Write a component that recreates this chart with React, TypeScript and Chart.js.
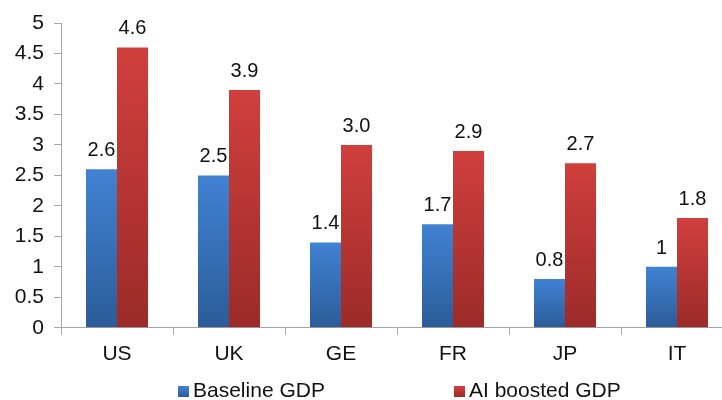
import React, { useEffect, useRef } from "react";
import { Chart, registerables } from "chart.js";

Chart.register(...registerables);

const categories = ["US", "UK", "GE", "FR", "JP", "IT"];
const baselineValues = [2.6, 2.5, 1.4, 1.7, 0.8, 1.0];
const aiValues = [4.6, 3.9, 3.0, 2.9, 2.7, 1.8];
const baselineLabels = ["2.6", "2.5", "1.4", "1.7", "0.8", "1"];
const aiLabels = ["4.6", "3.9", "3.0", "2.9", "2.7", "1.8"];
const seriesNames = ["Baseline GDP", "AI boosted GDP"];
const yTicks = [0, 0.5, 1, 1.5, 2, 2.5, 3, 3.5, 4, 4.5, 5];

const FONT = "'Liberation Sans', Arial, sans-serif";
const BLUE_TOP = "#4182d3";
const BLUE_BOTTOM = "#2c5c98";
const RED_TOP = "#d03f3c";
const RED_BOTTOM = "#9b2b29";

function barGradient(ctx: any, top: string, bottom: string) {
  const chart = ctx.chart;
  if (!chart.chartArea || ctx.type !== "data") return top;
  const y = chart.scales.y;
  const v = ctx.raw as number;
  const yTop = y.getPixelForValue(v);
  const yBase = y.getPixelForValue(0);
  if (!isFinite(yTop) || !isFinite(yBase) || yTop === yBase) return top;
  const g = chart.ctx.createLinearGradient(0, yTop, 0, yBase);
  g.addColorStop(0, top);
  g.addColorStop(1, bottom);
  return g;
}

const labelPlugin = {
  id: "valueLabels",
  afterDatasetsDraw(chart: any) {
    const ctx = chart.ctx;
    const texts = [baselineLabels, aiLabels];
    ctx.save();
    ctx.font = `20px ${FONT}`;
    ctx.fillStyle = "#111";
    ctx.textAlign = "center";
    ctx.textBaseline = "alphabetic";
    chart.data.datasets.forEach((_ds: any, di: number) => {
      const meta = chart.getDatasetMeta(di);
      meta.data.forEach((bar: any, i: number) => {
        ctx.fillText(texts[di][i], bar.x, bar.y - 13);
      });
    });
    ctx.restore();
  },
};

const legendPlugin = {
  id: "customLegend",
  afterDraw(chart: any) {
    const ctx = chart.ctx;
    const xs = [178, 454];
    const colors = [BLUE_TOP, RED_TOP];
    const baseY = 397;
    ctx.save();
    ctx.font = `21px ${FONT}`;
    ctx.textBaseline = "alphabetic";
    ctx.textAlign = "left";
    chart.data.datasets.forEach((ds: any, i: number) => {
      const g = ctx.createLinearGradient(0, baseY - 11, 0, baseY);
      g.addColorStop(0, colors[i]);
      g.addColorStop(1, i === 0 ? BLUE_BOTTOM : RED_BOTTOM);
      ctx.fillStyle = g;
      ctx.fillRect(xs[i], baseY - 11, 11, 11);
      ctx.fillStyle = "#111";
      ctx.fillText(ds.label, xs[i] + 15, baseY);
    });
    ctx.restore();
  },
};

export default function App() {
  const ref = useRef<HTMLCanvasElement | null>(null);

  useEffect(() => {
    document.body.style.margin = "0";
    const canvas = ref.current;
    if (!canvas) return;
    const chart = new Chart(canvas, {
      type: "bar",
      data: {
        labels: categories,
        datasets: [
          {
            label: seriesNames[0],
            data: baselineValues,
            backgroundColor: (c: any) => barGradient(c, BLUE_TOP, BLUE_BOTTOM),
            categoryPercentage: 0.554,
            barPercentage: 1,
          },
          {
            label: seriesNames[1],
            data: aiValues,
            backgroundColor: (c: any) => barGradient(c, RED_TOP, RED_BOTTOM),
            categoryPercentage: 0.554,
            barPercentage: 1,
          },
        ],
      },
      options: {
        responsive: false,
        animation: false,
        devicePixelRatio: 1,
        layout: { padding: { top: 23, right: 27, bottom: 26, left: 0 } },
        plugins: {
          legend: { display: false },
          tooltip: { enabled: false },
        },
        scales: {
          x: {
            grid: {
              drawOnChartArea: false,
              drawTicks: true,
              tickLength: 7,
              color: "#a6a6a6",
              offset: true,
            },
            border: { color: "#a6a6a6", width: 1 },
            ticks: {
              color: "#111",
              font: { family: FONT, size: 21 },
              padding: 7,
            },
          },
          y: {
            min: 0,
            max: 5,
            afterFit: (scale: any) => {
              scale.width = 61;
            },
            afterBuildTicks: (scale: any) => {
              scale.ticks = yTicks.map((v) => ({ value: v }));
            },
            grid: {
              drawOnChartArea: false,
              drawTicks: true,
              tickLength: 7,
              color: "#a6a6a6",
            },
            border: { color: "#a6a6a6", width: 1 },
            ticks: {
              color: "#111",
              font: { family: FONT, size: 21 },
              padding: 10,
              callback: (v: any) => String(v),
            },
          },
        },
      },
      plugins: [labelPlugin, legendPlugin],
    });
    return () => chart.destroy();
  }, []);

  return (
    <div style={{ width: 722, height: 400, overflow: "hidden", position: "relative" }}>
      <canvas ref={ref} width={760} height={400} style={{ width: 760, height: 400, display: "block" }} />
    </div>
  );
}
